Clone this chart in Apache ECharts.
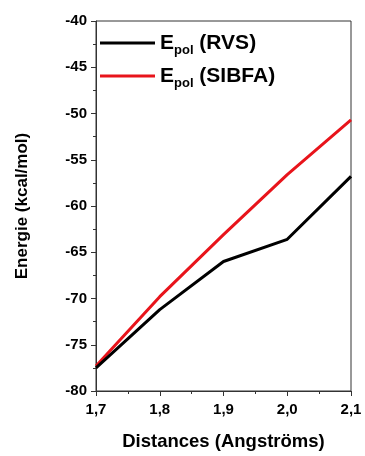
<!DOCTYPE html>
<html><head><meta charset="utf-8">
<script src="https://cdn.jsdelivr.net/npm/echarts@6/dist/echarts.min.js"></script>
<style>html,body{margin:0;padding:0;background:#fff}#c{width:365px;height:456px}</style>
</head><body><div id="c"></div>
<script>
const distances = [1.7, 1.8, 1.9, 2.0, 2.1];
const rvs = [-77.5, -71.2, -66.0, -63.6, -56.8];
const sibfa = [-77.3, -69.8, -63.1, -56.6, -50.7];
const yTicks = {min: -80, max: -40, interval: 5};
const xTicks = {min: 1.7, max: 2.1, interval: 0.1};

const chart = echarts.init(document.getElementById('c'));
const font = 'Liberation Sans, Arial, sans-serif';
const rich = {
  e: {fontSize: 21, fontWeight: 'bold', fontFamily: font, color: '#000', lineHeight: 28, verticalAlign: 'middle'},
  s: {fontSize: 13, fontWeight: 'bold', fontFamily: font, color: '#000', lineHeight: 14, verticalAlign: 'bottom'},
  n: {fontSize: 21, fontWeight: 'bold', fontFamily: font, color: '#000', lineHeight: 28, verticalAlign: 'middle'}
};
chart.setOption({
  animation: false,
  grid: {left: 96, right: 14, top: 21, bottom: 64, show: true, borderColor: '#333', borderWidth: 1},
  legend: {
    orient: 'vertical', left: 100, top: 29, padding: 0, itemWidth: 55, itemHeight: 3, itemGap: 5,
    icon: 'rect', data: ['RVS', 'SIBFA'],
    formatter: n => '{e|E}{s|pol}{n| (' + n + ')}',
    textStyle: {rich: rich, lineHeight: 28}
  },
  xAxis: {
    type: 'value', min: xTicks.min, max: xTicks.max, interval: xTicks.interval,
    name: 'Distances (Angströms)', nameLocation: 'middle', nameGap: 41,
    nameTextStyle: {fontSize: 18.5, fontWeight: 'bold', fontFamily: font, color: '#000'},
    axisLine: {lineStyle: {color: '#333'}},
    axisTick: {length: 5, lineStyle: {color: '#333'}},
    minorTick: {show: true, splitNumber: 2, length: 3, lineStyle: {color: '#333'}},
    splitLine: {show: false},
    axisLabel: {fontSize: 15, fontWeight: 'bold', fontFamily: font, color: '#000', margin: 11,
      formatter: v => v.toFixed(1).replace('.', ',')}
  },
  yAxis: {
    type: 'value', min: yTicks.min, max: yTicks.max, interval: yTicks.interval,
    name: 'Energie (kcal/mol)', nameLocation: 'middle', nameGap: 65,
    nameTextStyle: {fontSize: 17, fontWeight: 'bold', fontFamily: font, color: '#000'},
    axisLine: {show: true, lineStyle: {color: '#333'}},
    axisTick: {show: true, length: 5, lineStyle: {color: '#333'}},
    minorTick: {show: true, splitNumber: 2, length: 3, lineStyle: {color: '#333'}},
    splitLine: {show: false},
    axisLabel: {fontSize: 15, fontWeight: 'bold', fontFamily: font, color: '#000', margin: 9}
  },
  series: [
    {name: 'SIBFA', type: 'line', data: distances.map((d, i) => [d, sibfa[i]]),
     showSymbol: false, lineStyle: {color: '#e8141b', width: 3}, itemStyle: {color: '#e8141b'}},
    {name: 'RVS', type: 'line', data: distances.map((d, i) => [d, rvs[i]]),
     showSymbol: false, lineStyle: {color: '#000', width: 3}, itemStyle: {color: '#000'}}
  ]
});
</script></body></html>
